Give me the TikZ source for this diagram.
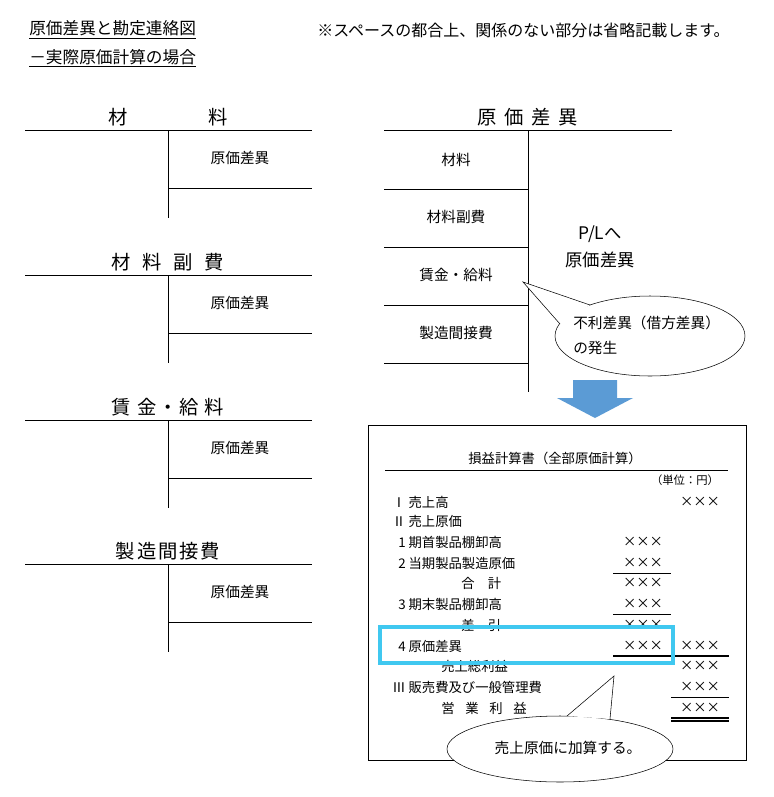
\documentclass[tikz,border=0pt]{standalone}
\usepackage{fontspec}
\setmainfont{Noto Sans CJK JP}
\begin{document}
\begin{tikzpicture}[x=0.75pt,y=0.75pt,yscale=-1,xscale=1,
  acct/.style={font=\fontsize{13}{15}\selectfont,inner sep=0.75pt},
  ttl/.style={font=\fontsize{14.5}{16}\selectfont,inner sep=0.75pt},
  row/.style={font=\fontsize{10}{12}\selectfont,inner sep=0.75pt,anchor=west},
  amt/.style={font=\fontsize{10}{12}\selectfont,inner sep=0.75pt},
  txt/.style={font=\fontsize{11}{13}\selectfont,inner sep=0.75pt}]
\useasboundingbox (0,0) rectangle (774,797);

%=====Fejléc=======
\node (head) [anchor=west,txt,font=\fontsize{12.5}{14}\selectfont] at (28,30) {\underline{原価差異と勘定連絡図}};
\node (sub) [anchor=west,txt,font=\fontsize{12.5}{14}\selectfont] at (28,58) {\underline{－実際原価計算の場合}};
\node (note) [anchor=west,txt,font=\fontsize{12}{14}\selectfont] at (316,30) {※スペースの都合上、関係のない部分は省略記載します。};

%=====Bal oldali számlák=======
\foreach \y/\t in {117/材\hspace{4.2em}料, 262/材\hspace{0.6em}料\hspace{0.6em}副\hspace{0.6em}費, 407/賃\hspace{0.3em}金\hspace{0.1em}・\hspace{0.1em}給\hspace{0.3em}料, 551/製\hspace{0.1em}造\hspace{0.1em}間\hspace{0.1em}接\hspace{0.1em}費}{
  \node [ttl] at (168,\y) {\t};
  \draw (25,\y+13) -- (312,\y+13);
  \draw (168,\y+13) -- (168,\y+101);
  \draw (168,\y+71) -- (312,\y+71);
  \node [txt] at (240,\y+41) {原価差異};
}

%=====Jobb oldali számla=======
\node (cv) [ttl] at (528,117) {原\hspace{0.4em}価\hspace{0.4em}差\hspace{0.4em}異};
\draw (384,130) -- (672,130);
\draw (528,130) -- (528,392);
\foreach \y in {189,247,305,363} \draw (384,\y) -- (528,\y);
\node (m1) [txt] at (456,160) {材料};
\node (m2) [txt] at (456,217) {材料副費};
\node (m3) [txt] at (456,275) {賃金・給料};
\node (m4) [txt] at (456,333) {製造間接費};
\node (pl) [acct] at (600,234) {P/Lへ};
\node (pl2) [acct] at (600,260) {原価差異};

% buborék
\coordinate (tip1) at (523,282);
\draw [fill=white] (650,336) ellipse [x radius=95, y radius=40];
\fill [white] (560,324) -- (tip1) -- (590,305) -- cycle;
\draw (560,324) -- (tip1) -- (590,305);
\node (u1) [txt,anchor=west] at (572,323) {不利差異（借方差異）};
\node (u2) [txt,anchor=west] at (572,348) {の発生};

% kék nyíl
\fill [fill={rgb,255:red,91;green,155;blue,213}] (573,380) -- (617,380) -- (617,398) -- (633,398) -- (595,418) -- (557,398) -- (573,398) -- cycle;

%=====Eredménykimutatás=======
\draw (368,425) rectangle (746,760);
\node (pt) [amt] at (555,458) {損益計算書（全部原価計算）};
\draw (385,470) -- (728,470);
\node [amt,font=\fontsize{8.5}{10}\selectfont] at (685,480) {（単位：円）};
\node [row] at (391,502) {Ⅰ 売上高};
\node [row] at (391,521) {Ⅱ 売上原価};
\node [row] at (397,542) {1 期首製品棚卸高};
\node [row] at (397,563) {2 当期製品製造原価};
\node [row] at (460,583) {合\hspace{1em}計};
\node [row] at (397,604) {3 期末製品棚卸高};
\node [row] at (460,625) {差\hspace{1em}引};
\node [row] at (397,646) {4 原価差異};
\node [row] at (440,666) {売上総利益};
\node [row] at (391,687) {Ⅲ 販売費及び一般管理費};
\node [row] at (440,708) {営\hspace{0.8em}業\hspace{0.8em}利\hspace{0.8em}益};
\foreach \y in {542,563,583,604,625,646} \node [amt] at (643,\y) {×××};
\foreach \y in {502,646,666,687,708} \node [amt] at (700,\y) {×××};
\draw (613,573) -- (671,573);
\draw (613,614) -- (671,614);
\draw [line width=1pt] (613,656) -- (729,656);
\draw (671,697) -- (729,697);
\draw [line width=1pt] (671,718) -- (729,718);
\draw [line width=1pt] (671,721) -- (729,721);
\draw [line width=2.5pt, draw={rgb,255:red,64;green,200;blue,240}] (380,627) rectangle (673,663);

% alsó buborék
\coordinate (tip2) at (614,676);
\draw [fill=white] (560,749) ellipse [x radius=113, y radius=33];
\fill [white] (567,716) -- (tip2) -- (610,719) -- cycle;
\draw (567,716) -- (tip2) -- (610,719);
\node (add) [txt] at (568,748) {売上原価に加算する。};
\end{tikzpicture}
\end{document}
